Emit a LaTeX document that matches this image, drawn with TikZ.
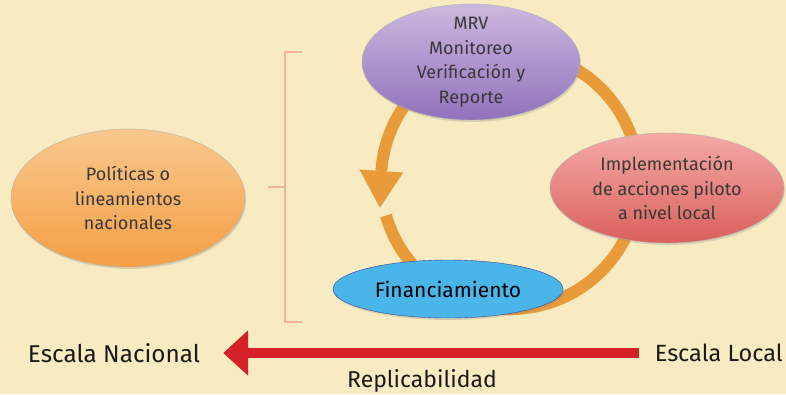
\documentclass[tikz,border=0pt]{standalone}
\usepackage{fontspec}
\setmainfont{Fira Sans}
\usetikzlibrary{shapes.geometric,arrows.meta,calc,shadows}
\definecolor{fondo}{HTML}{F8EBC1}
\definecolor{anillo}{HTML}{E89B38}
\definecolor{rojo}{HTML}{D42027}
\definecolor{corchete}{HTML}{F0B5A0}
\definecolor{naranjaA}{HTML}{F9C88E}
\definecolor{naranjaB}{HTML}{F49F45}
\definecolor{moradoA}{HTML}{CBB8DE}
\definecolor{moradoB}{HTML}{9272BD}
\definecolor{rosaA}{HTML}{F4AAA6}
\definecolor{rosaB}{HTML}{DA605B}
\definecolor{celeste}{HTML}{4AB5E9}
\tikzset{burbuja/.style={ellipse, draw=black!30, thin, text=black!78, align=center, inner sep=-40pt,
    font=\fontsize{18}{24.5}\selectfont, drop shadow={opacity=0.25, shadow xshift=1pt, shadow yshift=-2pt}},
  escala/.style={font=\fontsize{24.3}{27}\selectfont, text=black!90, inner sep=2pt}}

\begin{document}
\begin{tikzpicture}[x=1pt,y=-1pt]
  \fill[fondo] (0,0) rectangle (786,394);
  \useasboundingbox (0,0) rectangle (786,394);
  % ciclo
  \coordinate (c) at (510,180);
  \draw[anillo, line width=12pt] ($(c)+(240:129)$) arc[start angle=240, end angle=184, radius=129];
  \fill[anillo] ($(c)+(184:151)$) -- ($(c)+(184:107)$) -- ($(c)+(168:133)$) -- cycle;
  \draw[anillo, line width=12pt] ($(c)+(164:129)$) arc[start angle=164, end angle=-80, radius=129];
  % corchete
  \draw[corchete, line width=1.5pt] (302,52) -- (285,52) -- (285,322) -- (302,322);
  \draw[corchete, line width=1.5pt] (285,187) -- (268,187);
  % burbujas
  \node[burbuja, minimum width=234pt, minimum height=138pt, top color=naranjaA, bottom color=naranjaB]
    (politicas) at (128,198) {Políticas o\\lineamientos\\nacionales};
  \node[burbuja, minimum width=218pt, minimum height=116pt, top color=moradoA, bottom color=moradoB]
    (mrv) at (471,62) {MRV\\Monitoreo\\Verificación y\\Reporte};
  \node[burbuja, minimum width=234pt, minimum height=110pt, top color=rosaA, bottom color=rosaB]
    (implementacion) at (667,188) {Implementación\\de acciones piloto\\a nivel local};
  \node[burbuja, minimum width=230pt, minimum height=58pt, fill=celeste, draw=blue!45!black!75, text=black,
    font=\fontsize{21}{24}\selectfont] (financiamiento) at (448,289) {Financiamiento};
  % escala
  \node[escala] (nacional) at (114,353) {Escala Nacional};
  \node[escala, anchor=east, font=\fontsize{23.5}{26}\selectfont] (local) at (785,353) {Escala Local};
  \draw[rojo, line width=10pt, -{Triangle[length=25pt,width=44pt]}] ([xshift=-14pt]local.west) -- ([xshift=21pt]nacional.east);
  \node[escala, font=\fontsize{23}{26}\selectfont] (replicabilidad) at (422,381) {Replicabilidad};
\end{tikzpicture}
\end{document}
